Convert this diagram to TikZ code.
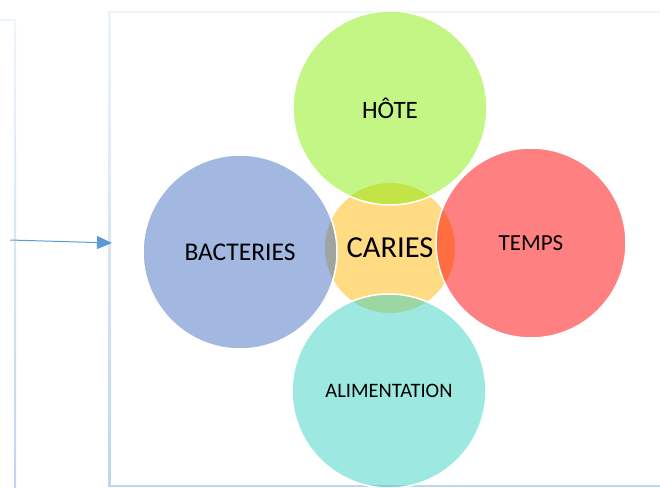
\documentclass[tikz,border=0pt]{standalone}
\usepackage{fontspec}
\setmainfont{Carlito}
\usetikzlibrary{arrows.meta}
\definecolor{hotecol}{RGB}{137,237,11}
\definecolor{bactcol}{RGB}{69,113,193}
\definecolor{tempscol}{RGB}{255,1,1}
\definecolor{alimcol}{RGB}{59,211,195}
\definecolor{cariescol}{RGB}{255,219,131}
\definecolor{flechecol}{RGB}{91,155,213}
\definecolor{cadrebas}{RGB}{190,214,238}
\definecolor{cadrehaut}{RGB}{238,244,251}
\begin{document}
\begin{tikzpicture}[x=1pt,y=-1pt,
venn/.style={circle, fill opacity=0.5, text opacity=1, draw=white,
line width=1.5pt, minimum size=194pt, inner sep=0pt}]
\useasboundingbox (0,0) rectangle (660,487);
% draws frames
\draw[cadrehaut, line width=1.2pt] (0,20) -- (15,20);
\shade[top color=cadrehaut, bottom color=cadrebas] (14.2,20) rectangle (16.2,487);
\draw[cadrehaut, line width=1.2pt] (109,12) -- (660,12);
\shade[top color=cadrehaut, bottom color=cadrebas] (108.2,12) rectangle (110.4,486.5);
\draw[cadrebas, line width=1.5pt] (109,486) -- (660,486);
% draws centre
\node[circle, fill=cariescol, minimum size=130pt, inner sep=0pt,
font=\fontsize{30.5}{36}\selectfont] (caries) at (390,248) {CARIES};
% draws circles
\node[venn, fill=hotecol, font=\fontsize{25}{30}\selectfont] (hote) at (390,108) {HÔTE};
\node[venn, fill=bactcol, font=\fontsize{25.5}{30}\selectfont] (bacteries) at (240,252) {BACTERIES};
\node[venn, fill=tempscol, minimum size=190pt, font=\fontsize{23}{28}\selectfont] (temps) at (531,243) {TEMPS};
\node[venn, fill=alimcol, font=\fontsize{20.5}{25}\selectfont] (alimentation) at (389,391) {ALIMENTATION};
% draws arrow
\coordinate (depart) at (10,240);
\coordinate (arrivee) at (112,243);
\draw[flechecol, line width=1pt, -{Triangle[length=15pt,width=13pt]}] (depart) -- (arrivee);
\end{tikzpicture}
\end{document}
